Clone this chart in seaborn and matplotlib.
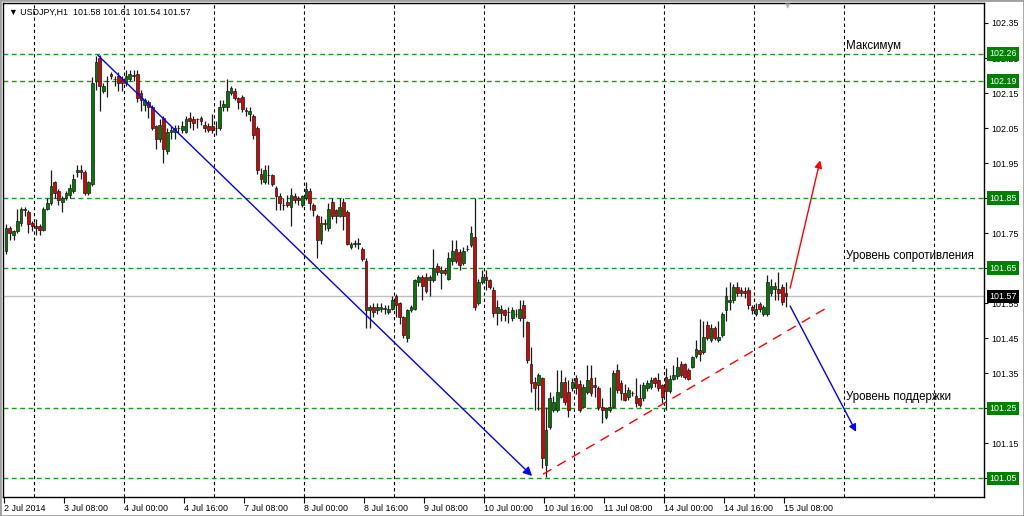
import matplotlib
matplotlib.use("Agg")
import matplotlib.pyplot as plt
import seaborn as sns
import numpy as np
from matplotlib.transforms import blended_transform_factory
from matplotlib.patches import Rectangle

sns.set_theme(style="white")
plt.rcParams['font.family'] = ['Liberation Sans', 'DejaVu Sans']

# ---------------- data (USDJPY, H1, 2 Jul 16:00 .. 15 Jul 08:00) ----------------
opens = [
    101.700, 101.765, 101.745, 101.755, 101.780, 101.815, 101.810, 101.780, 101.770, 101.770,
    101.760, 101.820, 101.835, 101.895, 101.870, 101.840, 101.850, 101.860, 101.870, 101.925,
    101.930, 101.925, 101.865, 101.890, 102.185, 102.250, 102.155, 102.185, 102.205, 102.190,
    102.200, 102.190, 102.180, 102.190, 102.200, 102.205, 102.150, 102.115, 102.125, 102.110,
    102.055, 102.020, 102.080, 101.985, 102.040, 102.040, 102.050, 102.045, 102.040, 102.080,
    102.075, 102.075, 102.080, 102.060, 102.055, 102.055, 102.050, 102.050, 102.110, 102.110,
    102.150, 102.155, 102.135, 102.140, 102.100, 102.090, 102.085, 102.050, 101.920, 101.895,
    101.915, 101.915, 101.880, 101.855, 101.830, 101.840, 101.825, 101.855, 101.850, 101.830,
    101.850, 101.870, 101.830, 101.800, 101.730, 101.780, 101.765, 101.840, 101.815, 101.800,
    101.840, 101.810, 101.710, 101.720, 101.720, 101.705, 101.670, 101.530, 101.540, 101.530,
    101.535, 101.535, 101.525, 101.535, 101.570, 101.550, 101.510, 101.450, 101.530, 101.535,
    101.610, 101.625, 101.625, 101.615, 101.615, 101.655, 101.635, 101.645, 101.620, 101.670,
    101.705, 101.695, 101.665, 101.705, 101.715, 101.740, 101.550, 101.610, 101.625, 101.616,
    101.587, 101.521, 101.535, 101.530, 101.525, 101.507, 101.520, 101.507, 101.546, 101.497,
    101.378, 101.326, 101.317, 101.336, 101.089, 101.198, 101.245, 101.245, 101.283, 101.326,
    101.298, 101.307, 101.336, 101.320, 101.255, 101.298, 101.336, 101.317, 101.307, 101.255,
    101.226, 101.245, 101.255, 101.360, 101.321, 101.293, 101.283, 101.293, 101.284, 101.279,
    101.279, 101.307, 101.312, 101.336, 101.331, 101.317, 101.340, 101.300, 101.335, 101.341,
    101.378, 101.376, 101.359, 101.369, 101.400, 101.416, 101.410, 101.488, 101.445, 101.478,
    101.445, 101.459, 101.530, 101.555, 101.559, 101.597, 101.588, 101.585, 101.588, 101.540,
    101.520, 101.547, 101.520, 101.520, 101.578, 101.590, 101.590, 101.595, 101.580,
]
highs = [
    101.775, 101.770, 101.760, 101.820, 101.825, 101.825, 101.815, 101.785, 101.790, 101.775,
    101.825, 101.850, 101.930, 101.900, 101.875, 101.855, 101.870, 101.890, 101.920, 101.945,
    101.945, 101.930, 101.900, 102.195, 102.255, 102.260, 102.180, 102.200, 102.210, 102.200,
    102.210, 102.200, 102.215, 102.215, 102.215, 102.215, 102.160, 102.135, 102.130, 102.115,
    102.060, 102.075, 102.085, 102.050, 102.055, 102.060, 102.060, 102.070, 102.085, 102.095,
    102.085, 102.080, 102.085, 102.070, 102.065, 102.090, 102.070, 102.130, 102.130, 102.190,
    102.170, 102.165, 102.140, 102.145, 102.110, 102.110, 102.090, 102.055, 101.935, 101.945,
    101.945, 101.920, 101.885, 101.865, 101.850, 101.860, 101.880, 101.865, 101.855, 101.860,
    101.895, 101.880, 101.835, 101.805, 101.800, 101.790, 101.835, 101.850, 101.820, 101.850,
    101.850, 101.815, 101.725, 101.730, 101.735, 101.710, 101.680, 101.545, 101.550, 101.550,
    101.550, 101.545, 101.545, 101.570, 101.575, 101.555, 101.515, 101.535, 101.545, 101.620,
    101.630, 101.630, 101.635, 101.630, 101.705, 101.665, 101.655, 101.650, 101.695, 101.730,
    101.730, 101.705, 101.710, 101.715, 101.770, 101.850, 101.620, 101.645, 101.645, 101.620,
    101.597, 101.559, 101.545, 101.535, 101.540, 101.540, 101.535, 101.559, 101.560, 101.500,
    101.426, 101.340, 101.350, 101.340, 101.255, 101.298, 101.285, 101.360, 101.360, 101.340,
    101.331, 101.336, 101.345, 101.330, 101.320, 101.374, 101.374, 101.340, 101.315, 101.279,
    101.255, 101.312, 101.360, 101.378, 101.331, 101.320, 101.310, 101.300, 101.336, 101.320,
    101.326, 101.331, 101.340, 101.340, 101.350, 101.320, 101.365, 101.345, 101.375, 101.397,
    101.385, 101.380, 101.365, 101.400, 101.445, 101.505, 101.500, 101.500, 101.490, 101.485,
    101.500, 101.525, 101.595, 101.612, 101.606, 101.610, 101.595, 101.595, 101.595, 101.545,
    101.550, 101.555, 101.545, 101.630, 101.620, 101.610, 101.640, 101.605, 101.610,
]
lows = [
    101.690, 101.730, 101.730, 101.750, 101.770, 101.800, 101.750, 101.755, 101.745, 101.745,
    101.755, 101.815, 101.830, 101.850, 101.830, 101.810, 101.845, 101.850, 101.865, 101.910,
    101.905, 101.860, 101.860, 101.885, 102.160, 102.100, 102.150, 102.140, 102.190, 102.170,
    102.155, 102.155, 102.170, 102.185, 102.185, 102.125, 102.100, 102.100, 102.080, 102.045,
    101.990, 102.010, 101.950, 101.975, 102.020, 102.020, 102.035, 102.035, 102.035, 102.050,
    102.045, 102.050, 102.060, 102.040, 102.040, 102.035, 102.030, 102.045, 102.100, 102.100,
    102.145, 102.130, 102.105, 102.095, 102.085, 102.070, 102.020, 101.920, 101.890, 101.890,
    101.890, 101.885, 101.815, 101.815, 101.815, 101.825, 101.770, 101.835, 101.830, 101.825,
    101.845, 101.815, 101.800, 101.680, 101.720, 101.760, 101.755, 101.790, 101.780, 101.795,
    101.760, 101.715, 101.705, 101.710, 101.705, 101.670, 101.480, 101.480, 101.510, 101.520,
    101.525, 101.520, 101.520, 101.530, 101.510, 101.490, 101.450, 101.440, 101.525, 101.530,
    101.600, 101.560, 101.580, 101.570, 101.610, 101.630, 101.590, 101.630, 101.615, 101.660,
    101.665, 101.645, 101.660, 101.700, 101.710, 101.530, 101.545, 101.605, 101.587, 101.590,
    101.511, 101.488, 101.500, 101.500, 101.493, 101.500, 101.510, 101.500, 101.455, 101.380,
    101.298, 101.245, 101.245, 101.080, 101.055, 101.190, 101.240, 101.240, 101.280, 101.260,
    101.226, 101.300, 101.290, 101.240, 101.250, 101.290, 101.285, 101.283, 101.245, 101.207,
    101.220, 101.240, 101.250, 101.295, 101.274, 101.270, 101.275, 101.285, 101.255, 101.255,
    101.270, 101.300, 101.305, 101.310, 101.300, 101.265, 101.245, 101.295, 101.330, 101.335,
    101.340, 101.335, 101.330, 101.365, 101.395, 101.385, 101.405, 101.445, 101.440, 101.445,
    101.440, 101.455, 101.500, 101.530, 101.550, 101.570, 101.570, 101.565, 101.535, 101.520,
    101.515, 101.525, 101.515, 101.515, 101.570, 101.560, 101.560, 101.545, 101.540,
]
closes = [
    101.765, 101.750, 101.755, 101.785, 101.820, 101.820, 101.775, 101.770, 101.765, 101.760,
    101.820, 101.835, 101.885, 101.865, 101.845, 101.850, 101.865, 101.880, 101.905, 101.930,
    101.925, 101.865, 101.895, 102.180, 102.240, 102.170, 102.170, 102.185, 102.200, 102.190,
    102.180, 102.180, 102.200, 102.205, 102.200, 102.135, 102.130, 102.130, 102.110, 102.050,
    102.020, 102.060, 101.990, 102.040, 102.045, 102.050, 102.050, 102.055, 102.075, 102.070,
    102.065, 102.075, 102.070, 102.050, 102.045, 102.045, 102.050, 102.110, 102.120, 102.155,
    102.165, 102.135, 102.125, 102.105, 102.100, 102.100, 102.030, 101.930, 101.905, 101.930,
    101.915, 101.890, 101.855, 101.835, 101.830, 101.830, 101.860, 101.845, 101.845, 101.855,
    101.875, 101.835, 101.815, 101.730, 101.780, 101.775, 101.820, 101.800, 101.800, 101.825,
    101.800, 101.720, 101.720, 101.720, 101.720, 101.675, 101.530, 101.540, 101.525, 101.540,
    101.540, 101.535, 101.535, 101.560, 101.545, 101.510, 101.460, 101.530, 101.540, 101.615,
    101.625, 101.600, 101.585, 101.625, 101.650, 101.640, 101.645, 101.635, 101.680, 101.700,
    101.670, 101.660, 101.700, 101.705, 101.750, 101.540, 101.610, 101.625, 101.616, 101.597,
    101.521, 101.540, 101.521, 101.516, 101.526, 101.530, 101.520, 101.535, 101.507, 101.388,
    101.321, 101.307, 101.345, 101.108, 101.189, 101.279, 101.269, 101.298, 101.326, 101.269,
    101.245, 101.326, 101.307, 101.245, 101.312, 101.331, 101.293, 101.312, 101.255, 101.245,
    101.250, 101.255, 101.350, 101.302, 101.293, 101.274, 101.302, 101.293, 101.265, 101.260,
    101.317, 101.321, 101.331, 101.321, 101.307, 101.283, 101.300, 101.335, 101.345, 101.369,
    101.345, 101.340, 101.335, 101.397, 101.420, 101.405, 101.455, 101.452, 101.478, 101.450,
    101.455, 101.520, 101.570, 101.558, 101.597, 101.578, 101.578, 101.578, 101.545, 101.530,
    101.535, 101.533, 101.538, 101.611, 101.600, 101.600, 101.580, 101.555, 101.570,
]

x_tick_bars = [0, 16, 32, 48, 64, 80, 96, 112, 128, 144, 160, 176, 192, 208]
x_tick_labels = ["2 Jul 2014", "3 Jul 08:00", "4 Jul 00:00", "4 Jul 16:00", "7 Jul 08:00",
                 "8 Jul 00:00", "8 Jul 16:00", "9 Jul 08:00", "10 Jul 00:00", "10 Jul 16:00",
                 "11 Jul 08:00", "14 Jul 00:00", "14 Jul 16:00", "15 Jul 08:00"]
day_separators = [8, 32, 56, 80, 104, 128, 152, 176, 200, 224, 248]
y_ticks = [102.35, 102.25, 102.15, 102.05, 101.95, 101.85, 101.75, 101.65,
           101.55, 101.45, 101.35, 101.25, 101.15, 101.05]
level_values = [102.262, 102.184, 101.85, 101.65, 101.25, 101.05]
level_labels = ["102.26", "102.19", "101.85", "101.65", "101.25", "101.05"]
current_price = 101.57
current_label = "101.57"
header = "\u25bc USDJPY,H1  101.58 101.61 101.54 101.57"
notes = ["Максимум", "Уровень сопротивления", "Уровень поддержки"]
note_x = 224
note_y = [102.283, 101.685, 101.281]
down_trend = [(24.5, 102.258), (140.3, 101.057)]
support_line = [(143.2, 101.062), (218.7, 101.536)]
up_arrow = [(209.1, 101.593), (217.1, 101.958)]
down_arrow = [(209.1, 101.542), (226.7, 101.183)]

# ---------------- figure ----------------
W, H = 1024, 516
fig = plt.figure(figsize=(W / 100, H / 100), dpi=100, facecolor="white")
ax = fig.add_axes([3 / W, 19 / H, 981 / W, 494 / H])
ax.set_facecolor("white")
ax.set_xlim(-0.8, 260.8)
ax.set_ylim(100.997, 102.407)

idx = np.arange(len(opens))
o = np.array(opens); c = np.array(closes)
hi = np.array(highs); lo = np.array(lows)
up = c >= o
body_bottom = np.minimum(o, c)
body_h = np.maximum(np.abs(c - o), 0.0006)

# day separators
for s in day_separators:
    ax.axvline(s - 0.45, color="black", lw=0.8, ls=(0, (3, 2.5)), zorder=1)

# level lines
for v in level_values:
    ax.axhline(v, color="#1a9a1a", lw=1.0, ls=(0, (3.5, 2.5)), zorder=1)
ax.axhline(current_price, color="#c0c0c0", lw=1.0, zorder=1)

# candles
ax.vlines(idx, lo, hi, color="#1a1a1a", lw=0.9, zorder=3)
ax.bar(idx[up], body_h[up], bottom=body_bottom[up], width=0.72,
       color="#007a00", edgecolor="#1a1a1a", linewidth=0.5, zorder=4)
ax.bar(idx[~up], body_h[~up], bottom=body_bottom[~up], width=0.72,
       color="#e00000", edgecolor="#1a1a1a", linewidth=0.5, zorder=4)

# trend lines / arrows
ax.annotate("", xy=down_trend[1], xytext=down_trend[0],
            arrowprops=dict(arrowstyle="-|>", color="#0000ff", lw=1.0,
                            mutation_scale=13, shrinkA=0, shrinkB=0), zorder=6)
ax.plot([support_line[0][0], support_line[1][0]], [support_line[0][1], support_line[1][1]],
        color="#ff0000", lw=1.0, ls=(0, (7, 5)), zorder=6)
ax.annotate("", xy=up_arrow[1], xytext=up_arrow[0],
            arrowprops=dict(arrowstyle="-|>", color="#ff0000", lw=1.0,
                            mutation_scale=11, shrinkA=0, shrinkB=0), zorder=6)
ax.annotate("", xy=down_arrow[1], xytext=down_arrow[0],
            arrowprops=dict(arrowstyle="-|>", color="#0000ff", lw=1.0,
                            mutation_scale=11, shrinkA=0, shrinkB=0), zorder=6)

# notes
for t, yv in zip(notes, note_y):
    ax.text(note_x, yv, t, fontsize=8.3, color="black", va="center", ha="left", zorder=7)

# axes / ticks
for sp in ax.spines.values():
    sp.set_color("black")
    sp.set_linewidth(1.0)
ax.yaxis.tick_right()
ax.set_yticks(y_ticks)
ax.set_yticklabels([f"{v:.2f}" for v in y_ticks])
ax.tick_params(axis="y", which="major", right=True, left=False, length=3, width=0.8,
               pad=2, labelsize=6.4, colors="black", direction="out")
ax.set_xticks([b - 0.5 for b in x_tick_bars])
ax.set_xticklabels(x_tick_labels, ha="left")
ax.tick_params(axis="x", which="major", bottom=True, length=4, width=0.8, pad=1,
               labelsize=6.4, colors="black", direction="out")
ax.grid(False)

# right-axis highlighted labels
trans = blended_transform_factory(ax.transAxes, ax.transData)
xlab = 1 + 5 / 981
for v, lab in zip(level_values, level_labels):
    ax.text(xlab, v, lab, transform=trans, fontsize=6.4, color="white", va="center",
            ha="left", clip_on=False, zorder=10,
            bbox=dict(boxstyle="square,pad=0.25", fc="#008000", ec="none"))
ax.text(xlab, current_price, current_label, transform=trans, fontsize=6.4, color="white",
        va="center", ha="left", clip_on=False, zorder=10,
        bbox=dict(boxstyle="square,pad=0.25", fc="black", ec="none"))

# header
ax.text(6 / 981, 1 - 9 / 494, header, transform=ax.transAxes, fontsize=6.4,
        color="black", va="center", ha="left", zorder=10)
# chart-shift marker
ax.text((788 - 3) / 981, 1 - 3 / 494, "\u25bc", transform=ax.transAxes, fontsize=5,
        color="#b0b0b0", va="center", ha="center", zorder=10, family="DejaVu Sans")

# outer frame
fig.patches.append(Rectangle((0, 0), 1, 1, transform=fig.transFigure, fill=False,
                             ec="#a0a0a0", lw=2))

fig.savefig("out.png", dpi=100, facecolor="white")
